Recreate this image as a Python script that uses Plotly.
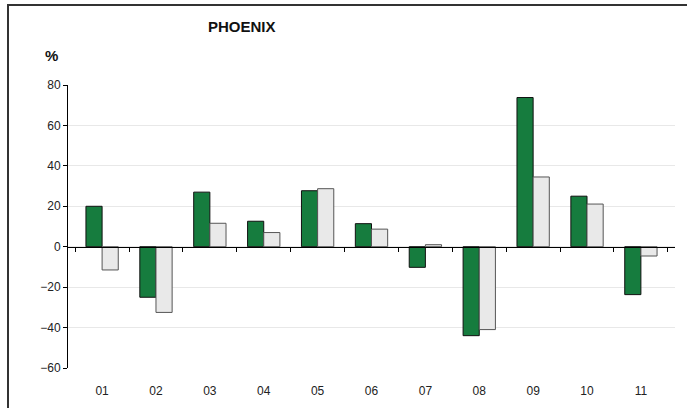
import plotly.graph_objects as go

months = ["01", "02", "03", "04", "05", "06", "07", "08", "09", "10", "11"]
green_vals = [20.0, -25.0, 27.0, 12.6, 27.7, 11.4, -10.2, -44.0, 73.8, 25.0, -23.7]
grey_vals = [-11.5, -32.5, 11.6, 7.0, 28.7, 8.7, 1.0, -41.0, 34.5, 21.1, -4.6]
y_min, y_max = -60, 80

fig = go.Figure()
fig.add_trace(go.Bar(x=months, y=green_vals, marker=dict(color="#167C3E", line=dict(color="#111111", width=1)),
                     hoverinfo="skip"))
fig.add_trace(go.Bar(x=months, y=grey_vals, marker=dict(color="#E9E9E9", line=dict(color="#555555", width=1)),
                     hoverinfo="skip"))
# invisible trace so the zero axis (xaxis2) gets its ticks
fig.add_trace(go.Scatter(x=months, y=green_vals, xaxis="x2", mode="markers",
                         marker=dict(opacity=0), hoverinfo="skip"))

fig.update_layout(
    width=687, height=408,
    margin=dict(l=68, r=12, t=85, b=40),
    paper_bgcolor="white", plot_bgcolor="white",
    showlegend=False,
    barmode="group", bargap=0.4, bargroupgap=0,
    font=dict(family="Liberation Sans, Arial, sans-serif", size=12, color="#222222"),
    xaxis=dict(showline=False, showgrid=False, ticks="", ticklabelstandoff=14, automargin=False,
               tickfont=dict(size=12)),
    xaxis2=dict(overlaying="x", matches="x", anchor="free", position=(0 - y_min) / (y_max - y_min),
                showline=True, linecolor="black", linewidth=1, ticks="outside", ticklen=4,
                tickcolor="black", tickson="boundaries", showticklabels=False, showgrid=False),
    yaxis=dict(range=[y_min, y_max], dtick=20, showline=True, linecolor="black", linewidth=1,
               ticks="outside", ticklen=4, tickcolor="black", showgrid=True, gridcolor="#E8E8E8",
               zeroline=False, automargin=False, tickfont=dict(size=12)),
    annotations=[
        dict(text="<b>PHOENIX</b>", x=242, y=27, xref="paper", yref="paper", showarrow=False,
             xanchor="center", yanchor="middle", font=dict(size=15, color="#111111")),
        dict(text="<b>%</b>", x=51, y=56, xref="paper", yref="paper", showarrow=False,
             xanchor="center", yanchor="middle", font=dict(size=15, color="#111111")),
    ],
)

# convert pixel positions of the text to paper coordinates
L, R, T, B = 68, 675, 85, 368
for a in fig.layout.annotations:
    a.x = (a.x - L) / (R - L)
    a.y = 1 + (T - a.y) / (B - T)

# outer frame (bottom/right run off the picture like the original)
fig.add_shape(type="rect", xref="paper", yref="paper",
              x0=(8 - L) / (R - L), x1=(720 - L) / (R - L),
              y0=1 + (T - 440) / (B - T), y1=1 + (T - 5) / (B - T),
              line=dict(color="#333333", width=2), layer="below")

fig.write_html("out.html", config={"displayModeBar": False},
               post_script="document.body.style.margin='0';")
